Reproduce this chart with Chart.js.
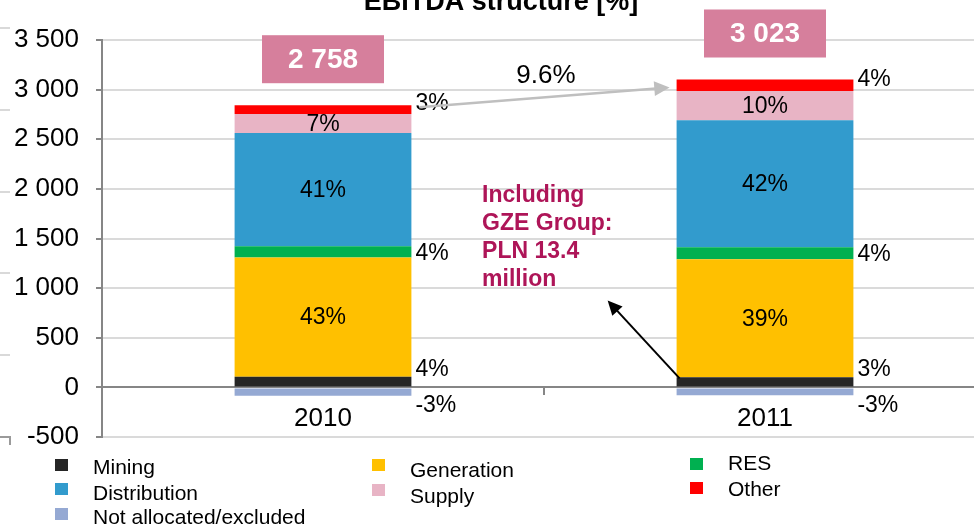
<!DOCTYPE html>
<html>
<head>
<meta charset="utf-8">
<script src="https://cdn.jsdelivr.net/npm/chart.js@4.4.0/dist/chart.umd.min.js"></script>
<style>
  html, body { margin: 0; padding: 0; background: #fff; overflow: hidden; }
  #wrap { width: 986px; height: 527px; }
</style>
</head>
<body>
<div id="wrap"><canvas id="ebitda" width="986" height="527"></canvas></div>
<script>
const years = ['2010', '2011'];

// EBITDA by segment, PLN m
const mining = [108, 101];
const generation = [1201, 1191];
const res = [114, 121];
const distribution = [1140, 1278];
const supply = [192, 296];
const other = [88, 115];
const notAllocated = [-85, -80];
const totals = [2758, 3023];

// share labels as printed on the chart
const miningPct = ['4%', '3%'];
const generationPct = ['43%', '39%'];
const resPct = ['4%', '4%'];
const distributionPct = ['41%', '42%'];
const supplyPct = ['7%', '10%'];
const otherPct = ['3%', '4%'];
const notAllocatedPct = ['-3%', '-3%'];

const yTickValues = [-500, 0, 500, 1000, 1500, 2000, 2500, 3000, 3500];

const FONT = '"Liberation Sans", Arial, sans-serif';

const fmt = v => (v < 0 ? '-' : '') + String(Math.abs(v)).replace(/\B(?=(\d{3})+(?!\d))/g, ' ');

// where each legend entry sits (col by col like the original slide)
const legendSpots = [
  {ds: 0, bx: 55, by: 459, ty: 468},
  {ds: 3, bx: 55, by: 483, ty: 494},
  {ds: 6, bx: 55, by: 508, ty: 518},
  {ds: 1, bx: 372, by: 459, ty: 471},
  {ds: 4, bx: 372, by: 484, ty: 497},
  {ds: 2, bx: 690, by: 458, ty: 464},
  {ds: 5, bx: 690, by: 482, ty: 490},
];

function arrow(ctx, x1, y1, x2, y2, color, w, head) {
  const a = Math.atan2(y2 - y1, x2 - x1);
  ctx.save();
  ctx.strokeStyle = color;
  ctx.fillStyle = color;
  ctx.lineWidth = w;
  ctx.beginPath();
  ctx.moveTo(x1, y1);
  ctx.lineTo(x2 - Math.cos(a) * head * 0.8, y2 - Math.sin(a) * head * 0.8);
  ctx.stroke();
  ctx.beginPath();
  ctx.moveTo(x2, y2);
  ctx.lineTo(x2 - head * Math.cos(a - 0.45), y2 - head * Math.sin(a - 0.45));
  ctx.lineTo(x2 - head * Math.cos(a + 0.45), y2 - head * Math.sin(a + 0.45));
  ctx.closePath();
  ctx.fill();
  ctx.restore();
}

const decor = {
  id: 'decor',
  beforeDraw(chart) {
    const ctx = chart.ctx;
    ctx.save();
    // leftovers of the slide behind the chart
    ctx.strokeStyle = '#D9D9D9';
    ctx.lineWidth = 2;
    [28, 110, 192, 273, 355].forEach(y => {
      ctx.beginPath(); ctx.moveTo(0, y); ctx.lineTo(10, y); ctx.stroke();
    });
    ctx.strokeStyle = '#9A9A9A';
    ctx.beginPath(); ctx.moveTo(0, 437); ctx.lineTo(10, 437); ctx.lineTo(10, 445); ctx.stroke();
    ctx.restore();
  },
  afterDatasetsDraw(chart) {
    const ctx = chart.ctx;
    const xs = chart.scales.x, ys = chart.scales.y;
    ctx.save();

    // title (cut at the top like the source)
    ctx.fillStyle = '#000';
    ctx.font = 'bold 27px ' + FONT;
    ctx.textAlign = 'center';
    ctx.textBaseline = 'alphabetic';
    ctx.fillText('EBITDA structure [%]', 501, 10);

    // share labels
    ctx.font = '23px ' + FONT;
    chart.data.datasets.forEach((ds, i) => {
      const meta = chart.getDatasetMeta(i);
      meta.data.forEach((el, j) => {
        const p = el.getProps(['x', 'y', 'base', 'width'], true);
        const cy = (p.y + p.base) / 2;
        ctx.fillStyle = '#000';
        ctx.textBaseline = 'middle';
        if (ds.place === 'in') {
          ctx.textAlign = 'center';
          ctx.fillText(ds.pct[j], p.x, cy + 1);
        } else {
          ctx.textAlign = 'left';
          ctx.fillText(ds.pct[j], p.x + p.width / 2 + 4, cy + ds.dy);
        }
      });
    });

    // total boxes
    const tops = years.map((_, j) => {
      let s = 0;
      chart.data.datasets.forEach(ds => { if (ds.data[j] > 0) s += ds.data[j]; });
      return ys.getPixelForValue(s);
    });
    const barW = chart.getDatasetMeta(0).data[0].width;
    totals.forEach((t, j) => {
      const cx = xs.getPixelForValue(j);
      const bottom = tops[j] - 22;
      ctx.fillStyle = '#D67F9C';
      ctx.fillRect(cx - 61, bottom - 48, 122, 48);
      ctx.fillStyle = '#fff';
      ctx.font = 'bold 28px ' + FONT;
      ctx.textAlign = 'center';
      ctx.textBaseline = 'middle';
      ctx.fillText(fmt(t), cx, bottom - 23);
    });

    // growth arrow
    const x0 = xs.getPixelForValue(0) + barW / 2, x1 = xs.getPixelForValue(1) - barW / 2;
    arrow(ctx, x0 + 8, tops[0] + 2, x1 - 7, tops[1] + 8, '#BFBFBF', 2.5, 17);
    const growth = ((totals[1] / totals[0] - 1) * 100).toFixed(1) + '%';
    ctx.fillStyle = '#000';
    ctx.font = '26px ' + FONT;
    ctx.textAlign = 'center';
    ctx.textBaseline = 'middle';
    ctx.fillText(growth, (x0 + x1) / 2 + 2, 76);

    // GZE note
    ctx.fillStyle = '#AE1558';
    ctx.font = 'bold 23px ' + FONT;
    ctx.textAlign = 'left';
    ctx.textBaseline = 'alphabetic';
    const nx = xs.getPixelForValue(0.36), ny = ys.getPixelForValue(1864);
    ['Including', 'GZE Group:', 'PLN 13.4', 'million'].forEach((s, k) => ctx.fillText(s, nx, ny + k * 28));
    arrow(ctx, x1 + 3, ys.getPixelForValue(mining[1]) + 1,
      xs.getPixelForValue(0.644), ys.getPixelForValue(875), '#000', 2, 16);

    // legend
    ctx.font = '21px ' + FONT;
    ctx.textBaseline = 'middle';
    legendSpots.forEach(s => {
      const ds = chart.data.datasets[s.ds];
      ctx.fillStyle = ds.backgroundColor;
      ctx.fillRect(s.bx, s.by, 13, 12);
      ctx.fillStyle = '#000';
      ctx.fillText(ds.label, s.bx + 38, s.ty);
    });
    ctx.restore();
  }
};

new Chart(document.getElementById('ebitda'), {
  type: 'bar',
  data: {
    labels: years,
    datasets: [
      {label: 'Mining', data: mining, backgroundColor: '#262626', pct: miningPct, place: 'right', dy: -12},
      {label: 'Generation', data: generation, backgroundColor: '#FFC000', pct: generationPct, place: 'in'},
      {label: 'RES', data: res, backgroundColor: '#00B050', pct: resPct, place: 'right', dy: 2},
      {label: 'Distribution', data: distribution, backgroundColor: '#329BCD', pct: distributionPct, place: 'in'},
      {label: 'Supply', data: supply, backgroundColor: '#E8B4C5', pct: supplyPct, place: 'in'},
      {label: 'Other', data: other, backgroundColor: '#FF0000', pct: otherPct, place: 'right', dy: -6},
      {label: 'Not allocated/excluded', data: notAllocated, backgroundColor: '#95A9D3', pct: notAllocatedPct, place: 'right', dy: 14}
    ]
  },
  options: {
    responsive: false,
    animation: false,
    layout: {padding: {top: 40, bottom: 90, left: 0, right: 0}},
    datasets: {bar: {barPercentage: 0.4, categoryPercentage: 1}},
    plugins: {legend: {display: false}, tooltip: {enabled: false}},
    scales: {
      x: {
        stacked: true,
        position: {y: 0},
        grid: {drawOnChartArea: false, tickLength: 7, tickColor: '#868686', lineWidth: 2, offset: true},
        border: {color: '#868686', width: 2},
        ticks: {font: {size: 26, family: FONT}, color: '#000', padding: 9}
      },
      y: {
        stacked: true,
        min: -500,
        max: 3500,
        afterFit: s => { s.width = 102; },
        afterBuildTicks: s => { s.ticks = yTickValues.map(v => ({value: v})); },
        grid: {color: c => c.tick && c.tick.value === 0 ? '#868686' : '#DADADA', lineWidth: 2, tickLength: 6, tickColor: '#868686'},
        border: {color: '#868686', width: 2},
        ticks: {font: {size: 26, family: FONT}, color: '#000', padding: 17, callback: v => fmt(v)}
      }
    }
  },
  plugins: [decor]
});
</script>
</body>
</html>
